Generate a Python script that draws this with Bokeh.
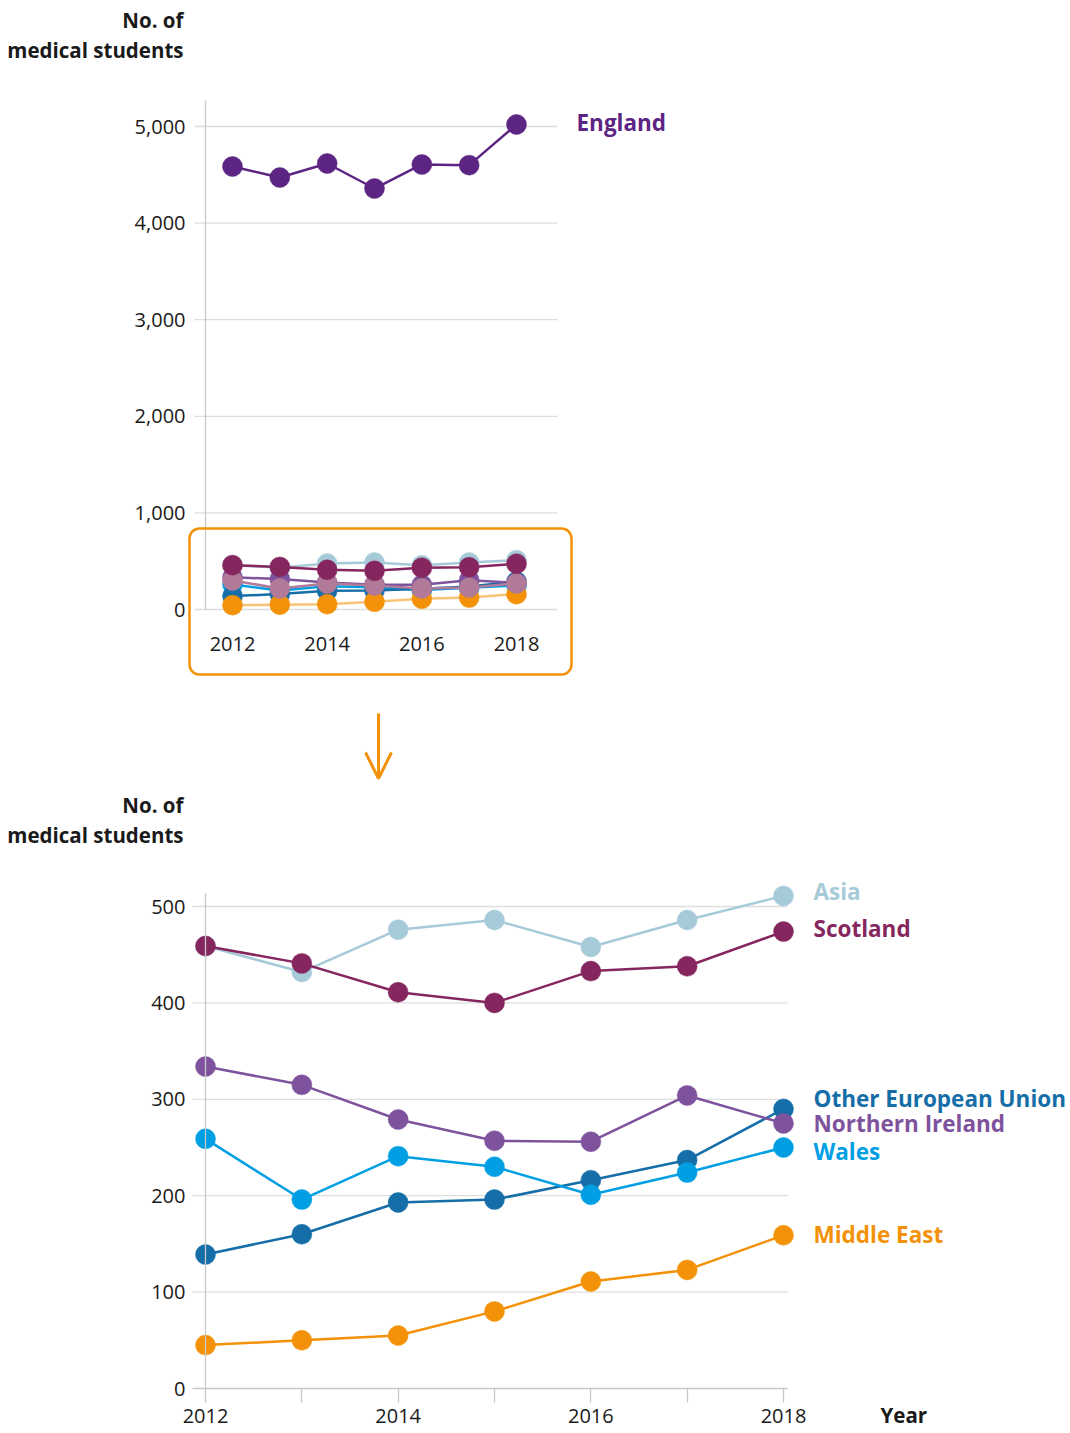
from bokeh.plotting import figure
from bokeh.layouts import column
from bokeh.models import (Range1d, LinearAxis, FixedTicker, NumeralTickFormatter,
                          Label, BoxAnnotation, Arrow, OpenHead)
from bokeh.embed import file_html
from bokeh.resources import INLINE

# ---------------- data ----------------
years = [2012, 2013, 2014, 2015, 2016, 2017, 2018]
england = [4586, 4472, 4617, 4358, 4607, 4600, 5021]
asia = [459, 432, 476, 486, 458, 486, 511]
scotland = [459, 441, 411, 400, 433, 438, 474]
northern_ireland = [334, 315, 279, 257, 256, 304, 275]
wales = [259, 196, 241, 230, 201, 224, 250]
other_eu = [139, 160, 193, 196, 216, 237, 290]
middle_east = [45, 50, 55, 80, 111, 123, 159]
unlabelled_top = [300, 218, 269, 248, 218, 228, 269]

top_y_ticks = [0, 1000, 2000, 3000, 4000, 5000]
bottom_y_ticks = [0, 100, 200, 300, 400, 500]
top_x_ticks = [2012, 2014, 2016, 2018]
bottom_x_ticks = years
bottom_x_labels = ["2012", "", "2014", "", "2016", "", "2018"]

# ---------------- style ----------------
C_ENG = "#5c2483"
C_ASIA = "#a6cad8"
C_SCO = "#86265f"
C_NI = "#7e529d"
C_WAL = "#009fe3"
C_EU = "#166ea8"
C_ME = "#f39208"
C_MAUVE = "#b07a98"
GRID = "#dedede"
AXIS = "#c8c8c8"
TXT = "#1a1a1a"
FONT = "Open Sans"
LABEL_SIZE = "22.5px"
TITLE_SIZE = "20.5px"

W = 1066
H1 = 788
H2 = 641
PAGE = 0

# pixel <-> data helpers (page pixel coordinates)
K1X = (516 - 232) / 6.0
K1Y = (609 - 126) / 5000.0
def f1x(px): return 2012 + (px - 232) / K1X
def f1y(py): return (609 - py) / K1Y

TOP2 = PAGE + H1
K2X = (783 - 205) / 6.0
K2Y = (1388 - 906) / 500.0
def f2x(px): return 2012 + (px - 205) / K2X
def f2y(py): return (1388 - py) / K2Y


def base_fig(h, xr, yr):
    p = figure(width=W, height=h, x_range=xr, y_range=yr, output_backend="svg",
               toolbar_location=None, x_axis_type=None, y_axis_type=None,
               min_border_left=0, min_border_right=0, min_border_top=0,
               min_border_bottom=0, outline_line_color=None)
    p.background_fill_color = "white"
    p.border_fill_color = "white"
    return p


def style_axis(ax, size="20px"):
    ax.major_label_text_font = FONT
    ax.major_label_text_font_size = size
    ax.major_label_text_color = TXT
    ax.minor_tick_line_color = None
    ax.minor_tick_out = 0
    ax.minor_tick_in = 0


# ================= top chart =================
p1 = base_fig(H1, Range1d(f1x(PAGE), f1x(PAGE + W)), Range1d(f1y(PAGE + H1), f1y(PAGE)))

for t in top_y_ticks:
    p1.segment(x0=f1x(194), y0=t, x1=f1x(557), y1=t, line_color=GRID, line_width=1.3)

yax1 = LinearAxis(fixed_location=f1x(205), bounds=(0, f1y(100)),
                  ticker=FixedTicker(ticks=top_y_ticks),
                  formatter=NumeralTickFormatter(format="0,0"),
                  axis_line_color=AXIS, axis_line_width=1.3,
                  major_tick_line_color=None, major_tick_out=0, major_tick_in=0,
                  major_label_standoff=20)
style_axis(yax1)
p1.add_layout(yax1, "left")

xax1 = LinearAxis(fixed_location=0, ticker=FixedTicker(ticks=top_x_ticks),
                  axis_line_color=None, major_tick_line_color=None,
                  major_tick_out=0, major_tick_in=0, major_label_standoff=27)
style_axis(xax1)
p1.add_layout(xax1, "below")

top_series = [
    (asia, C_ASIA, 1.0),
    (wales, C_WAL, 1.0),
    (other_eu, C_EU, 1.0),
    (northern_ireland, C_NI, 1.0),
    (middle_east, C_ME, 0.55),
    (unlabelled_top, C_MAUVE, 1.0),
    (scotland, C_SCO, 1.0),
    (england, C_ENG, 1.0),
]
for vals, col, la in top_series:
    p1.line(years, vals, line_color=col, line_width=2.5, line_alpha=la)
    p1.scatter(years, vals, size=20, fill_color=col, line_color=col, line_width=0.5)

p1.add_layout(Label(x=2018, y=england[-1], x_offset=60, y_offset=2, text="England",
                    text_font=FONT, text_font_style="bold", text_font_size=LABEL_SIZE,
                    text_color=C_ENG, text_baseline="middle", text_align="left"))

p1.add_layout(Label(x=f1x(205), y=5000, x_offset=-22, y_offset=126 - 34.5,
                    text="No. of\nmedical students", text_font=FONT,
                    text_font_style="bold", text_font_size=TITLE_SIZE, text_color=TXT,
                    text_align="right", text_baseline="middle", text_line_height=1.1))

p1.add_layout(BoxAnnotation(left=f1x(189), right=f1x(571), top=f1y(528), bottom=f1y(674),
                            fill_color=None, fill_alpha=0, line_color=C_ME, line_alpha=1.0,
                            line_width=2.5, border_radius=10))

p1.add_layout(Arrow(end=OpenHead(size=26, line_color=C_ME, line_width=3),
                    x_start=f1x(378), y_start=f1y(713), x_end=f1x(378), y_end=f1y(778),
                    line_color=C_ME, line_width=3))

# ================= bottom chart =================
p2 = base_fig(H2, Range1d(f2x(PAGE), f2x(PAGE + W)), Range1d(f2y(TOP2 + H2), f2y(TOP2)))

for t in bottom_y_ticks[1:]:
    p2.segment(x0=f2x(192), y0=t, x1=f2x(787), y1=t, line_color=GRID, line_width=1.3)

yax2 = LinearAxis(fixed_location=2012, bounds=(0, f2y(893)),
                  ticker=FixedTicker(ticks=bottom_y_ticks),
                  axis_line_color=AXIS, axis_line_width=1.3,
                  major_tick_line_color=None, major_tick_out=0, major_tick_in=0,
                  major_label_standoff=20)
style_axis(yax2)
p2.add_layout(yax2, "left")

xax2 = LinearAxis(fixed_location=0, bounds=(f2x(192), f2x(787)),
                  ticker=FixedTicker(ticks=bottom_x_ticks),
                  major_label_overrides={y: s for y, s in zip(bottom_x_ticks, bottom_x_labels)},
                  axis_line_color=AXIS, axis_line_width=1.3,
                  major_tick_line_color=AXIS, major_tick_line_width=1.3,
                  major_tick_out=14, major_tick_in=0, major_label_standoff=6)
style_axis(xax2)
p2.add_layout(xax2, "below")

bottom_series = [
    ("Asia", asia, C_ASIA, 4),
    ("Scotland", scotland, C_SCO, 3),
    ("Other European Union", other_eu, C_EU, 10),
    ("Wales", wales, C_WAL, -4),
    ("Northern Ireland", northern_ireland, C_NI, 0),
    ("Middle East", middle_east, C_ME, 1),
]
for name, vals, col, nudge in bottom_series:
    p2.line(years, vals, line_color=col, line_width=2.5)
    p2.scatter(years, vals, size=20, fill_color=col, line_color=col, line_width=0.5)
    p2.add_layout(Label(x=2018, y=vals[-1], x_offset=30, y_offset=nudge, text=name,
                        text_font=FONT, text_font_style="bold", text_font_size=LABEL_SIZE,
                        text_color=col, text_baseline="middle", text_align="left"))

p2.add_layout(Label(x=2012, y=500, x_offset=-22, y_offset=906 - 819.5,
                    text="No. of\nmedical students", text_font=FONT,
                    text_font_style="bold", text_font_size=TITLE_SIZE, text_color=TXT,
                    text_align="right", text_baseline="middle", text_line_height=1.1))

p2.add_layout(Label(x=2018, y=0, x_offset=97, y_offset=-26, text="Year",
                    text_font=FONT, text_font_style="bold", text_font_size="20.5px",
                    text_color=TXT, text_baseline="middle", text_align="left"))

layout = column(p1, p2, spacing=0)
open("out.html", "w").write(file_html(layout, INLINE))
